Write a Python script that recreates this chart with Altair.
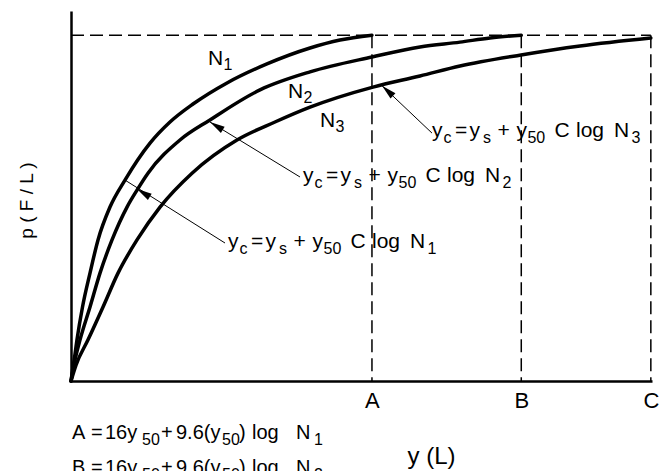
import altair as alt
import pandas as pd

FONT = "Liberation Sans"

# ---- values (y in arbitrary length units, p normalised) ----
A_VAL, B_VAL, C_VAL = 5.18, 7.75, 9.98
P_MAX = 1.0
tick_values = [A_VAL, B_VAL, C_VAL]
tick_labels = ["A", "B", "C"]

n1_y = [0, 0.034, 0.069, 0.103, 0.198, 0.327, 0.465, 0.671, 0.929, 1.360, 1.704, 2.100, 2.685, 3.373, 4.114, 4.630, 5.18]
n1_p = [0, 0.040, 0.078, 0.119, 0.214, 0.312, 0.408, 0.503, 0.581, 0.688, 0.749, 0.801, 0.862, 0.917, 0.963, 0.986, 1.0]

n2_y = [0, 0.069, 0.155, 0.327, 0.499, 0.706, 0.964, 1.136, 1.325, 1.876, 2.392, 3.253, 4.114, 5.181, 6.007, 6.695, 7.212, 7.75]
n2_p = [0, 0.061, 0.119, 0.214, 0.312, 0.408, 0.503, 0.552, 0.601, 0.697, 0.755, 0.842, 0.894, 0.937, 0.966, 0.980, 0.992, 1.0]

n3_y = [0, 0.086, 0.293, 0.551, 0.809, 1.136, 1.532, 2.083, 2.857, 3.511, 4.114, 5.198, 6.007, 6.695, 7.745, 8.761, 9.98]
n3_p = [0, 0.046, 0.119, 0.214, 0.312, 0.408, 0.503, 0.601, 0.697, 0.749, 0.792, 0.850, 0.882, 0.911, 0.943, 0.969, 0.992]

subs = ["1", "2", "3"]

# leader lines (from formula text to the curve) and arrow tips
lead_x = [2.651, 3.941, 6.213]
lead_p = [0.399, 0.590, 0.717]
lead_x2 = [0.929, 2.392, 5.353]
lead_p2 = [0.581, 0.749, 0.854]
tip_x = [1.136, 2.392, 5.353]
tip_p = [0.555, 0.749, 0.854]
tip_angle = [301.5, 301.4, 313.0]

# annotation anchors
formula_x = [2.702, 3.993, 6.213]
formula_p = [0.385, 0.575, 0.706]
label_x = [2.358, 3.735, 4.286]
label_p = [0.914, 0.818, 0.735]
bottom_letters = ["A", "B"]
bottom_subs = ["1", "2"]
bottom_x = [0.017, 0.017]
bottom_p = [-0.168, -0.269]

# ---- tables ----
curves = pd.concat([
    pd.DataFrame({"x": xs, "y": ps, "curve": name})
    for xs, ps, name in [(n1_y, n1_p, "N1"), (n2_y, n2_p, "N2"), (n3_y, n3_p, "N3")]
])

dashed = pd.DataFrame({
    "x": [0.0] + tick_values,
    "x2": [C_VAL] + tick_values,
    "y": [P_MAX] * 4,
    "y2": [P_MAX, 0, 0, 0],
})
leaders = pd.DataFrame({"x": lead_x, "y": lead_p, "x2": lead_x2, "y2": lead_p2})
tips = pd.DataFrame({"x": tip_x, "y": tip_p, "ang": tip_angle})
formulas = pd.DataFrame({"x": formula_x, "y": formula_p, "digit": subs})
labels = pd.DataFrame({"x": label_x, "y": label_p, "digit": subs})
bottoms = pd.DataFrame({"x": bottom_x, "y": bottom_p, "letter": bottom_letters, "digit": bottom_subs})

xscale = alt.Scale(domain=[0, 10], nice=False, zero=False)
yscale = alt.Scale(domain=[0, 1.07], nice=False, zero=False)

label_expr = " : ".join(
    f"abs(datum.value - {v}) < 0.01 ? '{t}'" for v, t in zip(tick_values, tick_labels)
) + " : ''"

x_axis = alt.Axis(
    values=tick_values, labelExpr=label_expr, ticks=False, tickSize=0, grid=False,
    domainColor="black", domainWidth=2.5, labelFont=FONT, labelFontSize=22,
    labelColor="black", labelPadding=9, labelFlush=False, labelAngle=0,
    title="y (L)", titleFont=FONT, titleFontSize=24, titleFontWeight="normal",
    titleColor="black", titleX=360, titleY=82, titleAlign="center",
    titleBaseline="alphabetic", titleAnchor="start",
)
y_axis = alt.Axis(
    values=[0], labels=False, ticks=False, grid=False, domainColor="black", domainWidth=2.5,
    title="p ( F / L )", titleFont=FONT, titleFontSize=19, titleFontWeight="normal",
    titleColor="black", titleAngle=270, titleX=-45, titleY=189, titleAlign="center",
    titleBaseline="middle", titleAnchor="start",
)


def X():
    return alt.X("x:Q", scale=xscale, axis=x_axis)


def Y():
    return alt.Y("y:Q", scale=yscale, axis=y_axis)


curve_layer = alt.Chart(curves).mark_line(
    color="black", strokeWidth=3.5, interpolate="monotone", strokeCap="round"
).encode(x=X(), y=Y(), detail="curve:N")

dash_layer = alt.Chart(dashed).mark_rule(
    color="black", strokeWidth=1.5, strokeDash=[13, 6]
).encode(x=X(), y=Y(), x2="x2:Q", y2="y2:Q")

leader_layer = alt.Chart(leaders).mark_rule(color="black", strokeWidth=1).encode(
    x=X(), y=Y(), x2="x2:Q", y2="y2:Q"
)

arrow_layer = alt.Chart(tips).mark_point(
    shape="M0,0L0.48,2L-0.48,2Z", filled=True, size=225, color="black", opacity=1, strokeWidth=0
).encode(x=X(), y=Y(), angle=alt.Angle("ang:Q", scale=None))

layers = [curve_layer, dash_layer, leader_layer, arrow_layer]

MAIN, SUB = 21, 16

# formula pieces: (text or None for the digit, dx, is_subscript)
formula_pieces = [
    ("y", 0, False), ("c", 11.5, True), ("=", 23, False), ("y", 37.5, False),
    ("s", 51, True), ("+", 65.5, False), ("y", 84.5, False), ("50", 95.5, True),
    ("C", 122.5, False), ("log", 144, False), ("N", 182, False), (None, 199.5, True),
]
for txt, dx, sub in formula_pieces:
    layers.append(
        alt.Chart(formulas).mark_text(
            align="left", baseline="alphabetic", dx=dx, dy=6 if sub else 0,
            font=FONT, fontSize=SUB if sub else MAIN, color="black",
        ).encode(x=X(), y=Y(), text=alt.Text("digit:N") if txt is None else alt.value(txt))
    )

for txt, dx, sub in [("N", 0, False), (None, 15.5, True)]:
    layers.append(
        alt.Chart(labels).mark_text(
            align="left", baseline="alphabetic", dx=dx, dy=5 if sub else 0,
            font=FONT, fontSize=SUB if sub else 21, color="black",
        ).encode(x=X(), y=Y(), text=alt.Text("digit:N") if txt is None else alt.value(txt))
    )

bottom_pieces = [
    ("letter", 0, False), ("=", 19, False), ("16y", 33, False), ("50", 70, True),
    ("+", 89, False), ("9.6(y", 104, False), ("50", 150, True), (")", 167, False),
    ("log", 180, False), ("N", 224, False), ("digit", 242, True),
]
for txt, dx, sub in bottom_pieces:
    if txt in ("letter", "digit"):
        text_enc = alt.Text(f"{txt}:N")
    else:
        text_enc = alt.value(txt)
    layers.append(
        alt.Chart(bottoms).mark_text(
            align="left", baseline="alphabetic", dx=dx, dy=6 if sub else 0,
            font=FONT, fontSize=SUB if sub else 20, color="black",
        ).encode(x=X(), y=Y(), text=text_enc)
    )

chart = alt.layer(*layers).properties(
    width=581, height=370,
    autosize=alt.AutoSizeParams(type="none"),
    padding={"left": 63, "top": 3, "right": 10, "bottom": 90},
    background="white",
).configure_view(stroke=None)

chart.save("out.html", embed_options={"renderer": "svg", "actions": False})
